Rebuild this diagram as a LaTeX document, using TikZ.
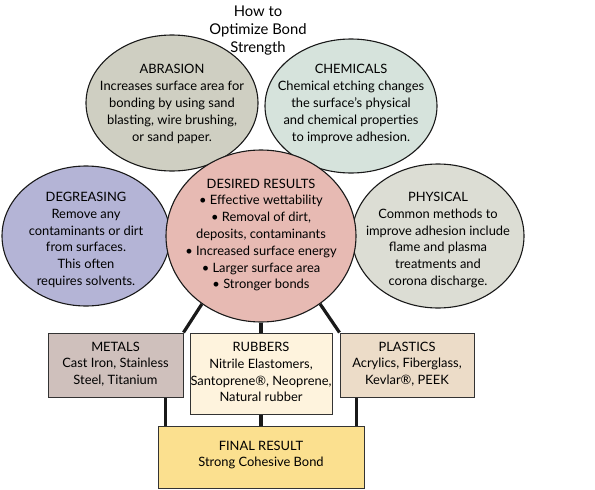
\documentclass[tikz,border=0pt]{standalone}
\usepackage{fontspec}
\setmainfont{Lato}
\usetikzlibrary{shapes.geometric,backgrounds}

\definecolor{abrasionfill}{HTML}{CFCFC2}
\definecolor{chemfill}{HTML}{D6E3DC}
\definecolor{degreasefill}{HTML}{B4B4D6}
\definecolor{desiredfill}{HTML}{E7BAB3}
\definecolor{physfill}{HTML}{DCDDD4}
\definecolor{metalfill}{HTML}{CFC0BC}
\definecolor{rubberfill}{HTML}{FEF3DD}
\definecolor{plasticfill}{HTML}{ECDCC8}
\definecolor{finalfill}{HTML}{FBE08F}

\begin{document}
\begin{tikzpicture}[x=1pt, y=-1pt,
    bubble/.style={ellipse, draw=black!90, line width=1.1pt, inner sep=0pt},
    bubbletext/.style={align=center, inner sep=0pt, font=\fontsize{12.9}{16.8}\selectfont},
    panel/.style={rectangle, draw=black!80, line width=1pt, inner sep=0pt},
    link/.style={line width=3.2pt, black!90}]
    \useasboundingbox (0,0) rectangle (595,490);
    % title
    \node (title) at (258,31) [align=center, font=\fontsize{14.8}{18}\selectfont] {How to\\Optimize Bond\\Strength};
    % upper ellipses
    \node (abrasion)  at (172,103) [bubble, fill=abrasionfill, minimum width=172, minimum height=136] {};
    \node (chemicals) at (351,106) [bubble, fill=chemfill, minimum width=172, minimum height=134] {};
    \node (degreasing) at (86,236) [bubble, fill=degreasefill, minimum width=168, minimum height=140] {};
    \node (physical)  at (438,236) [bubble, fill=physfill, minimum width=172, minimum height=144] {};
    \node (desired)   at (261,236) [bubble, fill=desiredfill, minimum width=190, minimum height=172] {};
    \node (abrasiontext) at (172,104) [bubbletext] {ABRASION\\Increases surface area for\\bonding by using sand\\blasting, wire brushing,\\or sand paper.};
    \node (chemtext) at (351,104) [bubbletext] {CHEMICALS\\Chemical etching changes\\the surface’s physical\\and chemical properties\\to improve adhesion.};
    \node (degreasetext) at (86,240) [bubbletext] {DEGREASING\\Remove any\\contaminants or dirt\\from surfaces.\\This often\\requires solvents.};
    \node (desiredtext) at (261,235) [bubbletext] {DESIRED RESULTS\\• Effective wettability\\• Removal of dirt,\\deposits, contaminants\\• Increased surface energy\\• Larger surface area\\• Stronger bonds};
    \node (phystext) at (438,240) [bubbletext] {PHYSICAL\\Common methods to\\improve adhesion include\\flame and plasma\\treatments and\\corona discharge.};
    % material boxes
    \node (metals)   at (115.5,365) [panel, fill=metalfill, minimum width=135, minimum height=64] {};
    \node (rubbers)  at (261,373.5) [panel, fill=rubberfill, minimum width=142, minimum height=81] {};
    \node (plastics) at (407,365) [panel, fill=plasticfill, minimum width=134, minimum height=64] {};
    \node (final)    at (261,457) [panel, fill=finalfill, minimum width=206, minimum height=62] {};
    \node (metaltext)   at (115.5,364) [bubbletext] {METALS\\Cast Iron, Stainless\\Steel, Titanium};
    \node (rubbertext)  at (261,372) [bubbletext] {RUBBERS\\Nitrile Elastomers,\\Santoprene®, Neoprene,\\Natural rubber};
    \node (plastictext) at (407,364) [bubbletext] {PLASTICS\\Acrylics, Fiberglass,\\Kevlar®, PEEK};
    \node (finaltext)   at (261,455) [bubbletext] {FINAL RESULT\\Strong Cohesive Bond};
    % connectors
    \begin{scope}[on background layer]
      \draw [link] (desired.229) -- (metals.north east);
      \draw [link] (desired.south) -- (rubbers.north);
      \draw [link] (desired.311) -- (plastics.north west);
      \draw [link] ([xshift=8pt]final.north west) -- ([xshift=8pt]final.north west |- metals.south);
      \draw [link] (rubbers.south) -- (final.north);
      \draw [link] ([xshift=-8pt]final.north east) -- ([xshift=-8pt]final.north east |- plastics.south);
    \end{scope}
\end{tikzpicture}
\end{document}
